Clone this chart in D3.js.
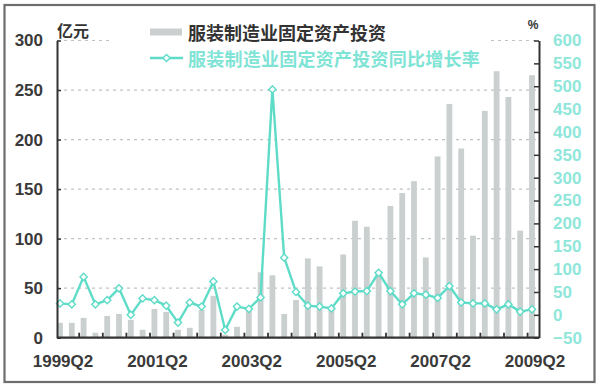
<!DOCTYPE html>
<html><head><meta charset="utf-8">
<script src="https://cdn.jsdelivr.net/npm/d3@7/dist/d3.min.js"></script>
<style>
html,body{margin:0;padding:0;background:#fff;}
svg{display:block;}
</style></head>
<body>
<script>
const quarters = ["1999Q2","1999Q3","1999Q4","2000Q1","2000Q2","2000Q3","2000Q4","2001Q1",
"2001Q2","2001Q3","2001Q4","2002Q1","2002Q2","2002Q3","2002Q4","2003Q1",
"2003Q2","2003Q3","2003Q4","2004Q1","2004Q2","2004Q3","2004Q4","2005Q1",
"2005Q2","2005Q3","2005Q4","2006Q1","2006Q2","2006Q3","2006Q4","2007Q1",
"2007Q2","2007Q3","2007Q4","2008Q1","2008Q2","2008Q3","2008Q4","2009Q1","2009Q2"];
const investment = [15,15,20,5,22,24,18,8,29,26,8,10,28,42,3,11,27,66,63,24,38,80,72,29,84,118,112,65,133,146,158,81,183,236,191,103,229,269,243,108,265];
const growthRate = [25,23,83,23,32,58,0,36,32,20,-17,27,18,73,-33,18,13,38,493,125,50,20,18,14,47,51,52,92,52,23,47,44,37,63,27,25,25,12,23,7,12];
const xLabels = ["1999Q2","2001Q2","2003Q2","2005Q2","2007Q2","2009Q2"];
const leftTicks = [0,50,100,150,200,250,300];
const rightTicks = [-50,0,50,100,150,200,250,300,350,400,450,500,550,600];
const seriesNames = ["服装制造业固定资产投资","服装制造业固定资产投资同比增长率"];
const leftUnit = "亿元", rightUnit = "%";

(function(){
const W = 600, H = 387;
const barColor = "#c9d0cf", lineColor = "#5edcc8", rightColor = "#8fe6da", dark = "#333";
const svg = d3.select("body").append("svg").attr("width", W).attr("height", H);
svg.append("rect").attr("width", W).attr("height", H).attr("fill", "#fff");
svg.append("rect").attr("x", 4.5).attr("y", 5).attr("width", 590).attr("height", 377)
  .attr("fill", "none").attr("stroke", "#6d6d6d").attr("stroke-width", 2.2);

const pLeft = 57, pRight = 539, pTop = 40.5, pBottom = 337.7;
const x = d3.scaleBand().domain(quarters).range([54.1, 537.9]).paddingInner(0.55).paddingOuter(0.275);
const step = x.step();
const cx = d => x(d) + x.bandwidth() / 2;
const yL = d3.scaleLinear().domain([0, 300]).range([pBottom, pTop]);
const yR = d3.scaleLinear().domain([-50, 600]).range([pBottom, pTop]);

// grid
svg.append("g").selectAll("line").data(leftTicks.filter(d => d > 0)).join("line")
  .attr("x1", pLeft).attr("x2", pRight).attr("y1", d => yL(d)).attr("y2", d => yL(d))
  .attr("stroke", "#bfc3c3").attr("stroke-width", 1.2).attr("stroke-dasharray", "3,4");

// legend background
svg.append("rect").attr("x", 113).attr("y", 14).attr("width", 375).attr("height", 56).attr("fill", "#fff");

// bars
svg.append("g").selectAll("rect").data(quarters).join("rect")
  .attr("x", d => cx(d) - 2.9).attr("width", 5.8)
  .attr("y", (d, i) => yL(investment[i])).attr("height", (d, i) => yL(0) - yL(investment[i]))
  .attr("fill", barColor);

// line
const line = d3.line().x((d, i) => cx(quarters[i])).y(d => yR(d));
svg.append("path").datum(growthRate).attr("d", line).attr("fill", "none")
  .attr("stroke", lineColor).attr("stroke-width", 2.4).attr("stroke-linejoin", "round");
const diamond = d3.symbol().type(d3.symbolSquare).size(26);
svg.append("g").selectAll("path").data(growthRate).join("path")
  .attr("d", diamond)
  .attr("transform", (d, i) => `translate(${cx(quarters[i])},${yR(d)}) rotate(45)`)
  .attr("fill", "#fff").attr("stroke", lineColor).attr("stroke-width", 1.4);

// axes
const fontNum = "'Liberation Sans', Arial, sans-serif";
const gl = svg.append("g").attr("transform", `translate(${pLeft},0)`)
  .call(d3.axisLeft(yL).tickValues(leftTicks).tickSizeInner(-4).tickSizeOuter(0).tickPadding(14));
gl.select(".domain").attr("stroke", dark).attr("stroke-width", 2);
gl.selectAll(".tick line").attr("stroke", dark).attr("stroke-width", 1.5);
gl.selectAll("text").attr("font-family", fontNum).attr("font-size", 17).attr("font-weight", "bold").attr("fill", "#3a3a3a");

const gr = svg.append("g").attr("transform", `translate(${pRight},0)`)
  .call(d3.axisRight(yR).tickValues(rightTicks).tickSizeInner(-5).tickSizeOuter(0).tickPadding(14));
gr.select(".domain").attr("stroke", dark).attr("stroke-width", 2);
gr.selectAll(".tick line").attr("stroke", dark).attr("stroke-width", 1.5);
gr.selectAll("text").attr("font-family", fontNum).attr("font-size", 17).attr("font-weight", "bold").attr("fill", rightColor);

// bottom axis line + ticks at band boundaries every 2 quarters
const gb = svg.append("g").attr("transform", `translate(0,${pBottom})`)
  .call(d3.axisBottom(x).tickValues(xLabels).tickSize(0).tickPadding(17));
gb.select(".domain").attr("d", `M${pLeft},0H${pRight}`).attr("stroke", dark).attr("stroke-width", 2.2);
gb.selectAll("text").attr("font-family", fontNum).attr("font-size", 17).attr("font-weight", "bold").attr("fill", "#3a3a3a")
  .attr("dx", 3);
svg.append("g").selectAll("line").data(quarters.filter((d, i) => i > 0 && i % 2 === 0)).join("line")
  .attr("x1", d => x(d) - (step - x.bandwidth()) / 2 + 1.5).attr("x2", d => x(d) - (step - x.bandwidth()) / 2 + 1.5)
  .attr("y1", pBottom).attr("y2", pBottom - 5).attr("stroke", dark).attr("stroke-width", 1.8);

// unit labels
const fontCJK = "'Noto Sans CJK SC', sans-serif";
svg.append("text").attr("x", 57).attr("y", 30).attr("dominant-baseline", "central")
  .attr("font-family", fontCJK).attr("font-weight", "bold").attr("font-size", 16).attr("fill", dark).text(leftUnit);
svg.append("text").attr("x", 533).attr("y", 25).attr("text-anchor", "middle").attr("dominant-baseline", "central")
  .attr("font-family", fontNum).attr("font-weight", "bold").attr("font-size", 12).attr("fill", dark).text(rightUnit);

// legend
svg.append("rect").attr("x", 150).attr("y", 28.5).attr("width", 32).attr("height", 7).attr("fill", barColor);
svg.append("text").attr("x", 188).attr("y", 32).attr("dominant-baseline", "central")
  .attr("font-family", fontCJK).attr("font-weight", "bold").attr("font-size", 18).attr("fill", dark).text(seriesNames[0]);
svg.append("line").attr("x1", 150).attr("x2", 183).attr("y1", 58).attr("y2", 58)
  .attr("stroke", lineColor).attr("stroke-width", 2.4);
svg.append("path").attr("d", diamond).attr("transform", "translate(166.5,58) rotate(45)")
  .attr("fill", "#fff").attr("stroke", lineColor).attr("stroke-width", 1.4);
svg.append("text").attr("x", 188).attr("y", 58).attr("dominant-baseline", "central")
  .attr("font-family", fontCJK).attr("font-weight", "bold").attr("font-size", 18).attr("letter-spacing", 0.25)
  .attr("fill", "#7fe3d5").text(seriesNames[1]);
})();
</script>
</body></html>
